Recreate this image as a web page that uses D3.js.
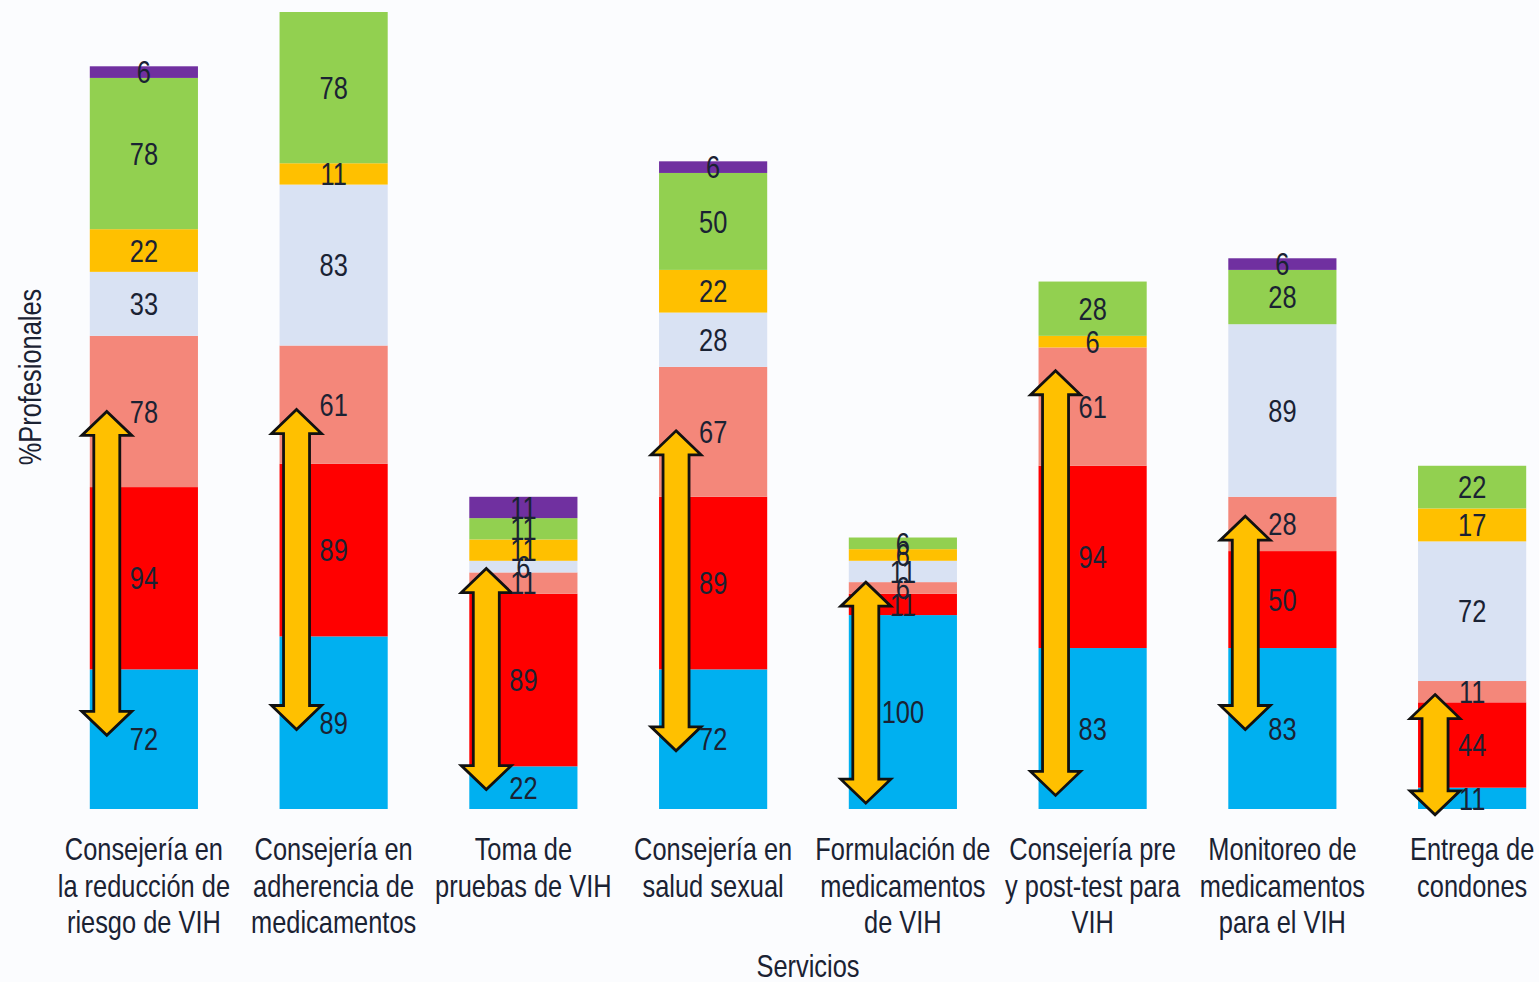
<!DOCTYPE html>
<html lang="es">
<head>
<meta charset="UTF-8">
<title>Servicios - %Profesionales</title>
<script src="https://cdn.jsdelivr.net/npm/d3@7"></script>
<style>
  body { margin: 0; background: #fbfcfe; }
  svg { display: block; }
  text { font-family: "Liberation Sans Narrow", "Liberation Sans", Arial, sans-serif; fill: #1a2233; }
</style>
</head>
<body>
<div id="chart"></div>
<script>
  // Categories (each wrapped label as lines)
  var categories = [
    ["Consejería en", "la reducción de", "riesgo de VIH"],
    ["Consejería en", "adherencia de", "medicamentos"],
    ["Toma de", "pruebas de VIH"],
    ["Consejería en", "salud sexual"],
    ["Formulación de", "medicamentos", "de VIH"],
    ["Consejería pre", "y post-test para", "VIH"],
    ["Monitoreo de", "medicamentos", "para el VIH"],
    ["Entrega de", "condones"]
  ];

  // Series values, bottom to top
  var sBlue   = [72, 89, 22, 72, 100, 83, 83, 11];
  var sRed    = [94, 89, 89, 89, 11, 94, 50, 44];
  var sSalmon = [78, 61, 11, 67, 6, 61, 28, 11];
  var sLight  = [33, 83, 6, 28, 11, 0, 89, 72];
  var sYellow = [22, 11, 11, 22, 6, 6, 0, 17];
  var sGreen  = [78, 78, 11, 50, 6, 28, 28, 22];
  var sPurple = [6, 0, 11, 6, 0, 0, 6, 0];

  // Double arrows (annotation), low and high ends in value units
  var arrowLow  = [38, 41, 10, 30, 3, 7, 41, -3];
  var arrowHigh = [205, 206, 124, 195, 117, 226, 151, 59];

  var series = [sBlue, sRed, sSalmon, sLight, sYellow, sGreen, sPurple];
  var colors = ["#00b0f0", "#ff0000", "#f4877a", "#d9e2f3", "#ffc000", "#92d050", "#7030a0"];

  var w = 1539, h = 982;
  var fs = 31, narrow = 0.82;   // narrow font imitation

  var svg = d3.select("#chart").append("svg")
    .attr("width", w)
    .attr("height", h);

  var x = d3.scaleBand()
    .domain(d3.range(categories.length))
    .range([49, 1567])
    .paddingInner(0.43)
    .paddingOuter(0.215);

  var y = d3.scaleLinear()
    .domain([0, 411])
    .range([809, 12]);

  // build table for stacking
  var table = categories.map(function(c, i) {
    var row = { i: i };
    series.forEach(function(s, k) { row["s" + k] = s[i]; });
    return row;
  });
  var keys = series.map(function(s, k) { return "s" + k; });
  var stacked = d3.stack().keys(keys)(table);

  var layers = svg.selectAll("g.layer")
    .data(stacked)
    .enter()
    .append("g")
    .attr("class", "layer")
    .attr("fill", function(d, k) { return colors[k]; });

  layers.selectAll("rect")
    .data(function(d) { return d.filter(function(p) { return p[1] > p[0]; }); })
    .enter()
    .append("rect")
    .attr("x", function(p) { return x(p.data.i); })
    .attr("width", x.bandwidth())
    .attr("y", function(p) { return y(p[1]); })
    .attr("height", function(p) { return y(p[0]) - y(p[1]); });

  // Arrows
  var arrows = svg.append("g");
  arrows.selectAll("path")
    .data(arrowLow.map(function(lo, i) { return { i: i, lo: lo, hi: arrowHigh[i] }; }))
    .enter()
    .append("path")
    .attr("d", function(d) {
      var cx = x(d.i) + 17, top = y(d.hi), bot = y(d.lo);
      var sw = 13, hw = 25, hl = 24;
      return "M" + cx + "," + top +
        "L" + (cx + hw) + "," + (top + hl) +
        "L" + (cx + sw) + "," + (top + hl) +
        "L" + (cx + sw) + "," + (bot - hl) +
        "L" + (cx + hw) + "," + (bot - hl) +
        "L" + cx + "," + bot +
        "L" + (cx - hw) + "," + (bot - hl) +
        "L" + (cx - sw) + "," + (bot - hl) +
        "L" + (cx - sw) + "," + (top + hl) +
        "L" + (cx - hw) + "," + (top + hl) + "Z";
    })
    .attr("fill", "#ffc000")
    .attr("stroke", "#111")
    .attr("stroke-width", 2.8)
    .attr("stroke-linejoin", "miter");

  // Value labels
  var labels = svg.append("g");
  stacked.forEach(function(layer) {
    labels.selectAll(null)
      .data(layer.filter(function(p) { return p[1] > p[0]; }))
      .enter()
      .append("text")
      .attr("transform", function(p) {
        return "translate(" + (x(p.data.i) + x.bandwidth() / 2) + "," + y((p[0] + p[1]) / 2) + ") scale(" + narrow + ",1)";
      })
      .attr("dy", "0.36em")
      .attr("text-anchor", "middle")
      .attr("font-size", fs + "px")
      .text(function(p) { return p[1] - p[0]; });
  });

  // Category labels
  var cat = svg.append("g");
  cat.selectAll("text")
    .data(categories)
    .enter()
    .append("text")
    .attr("text-anchor", "middle")
    .attr("font-size", fs + "px")
    .attr("transform", function(d, i) { return "translate(" + (x(i) + x.bandwidth() / 2) + ",860) scale(" + narrow + ",1)"; })
    .selectAll("tspan")
    .data(function(d) { return d; })
    .enter()
    .append("tspan")
    .attr("x", 0)
    .attr("y", function(d, j) { return j * 36.7; })
    .text(function(d) { return d; });

  // Axis titles
  svg.append("text")
    .attr("transform", "translate(808,977) scale(" + narrow + ",1)")
    .attr("text-anchor", "middle")
    .attr("font-size", fs + "px")
    .text("Servicios");

  svg.append("text")
    .attr("transform", "translate(41,377) rotate(-90) scale(" + narrow + ",1)")
    .attr("text-anchor", "middle")
    .attr("font-size", fs + "px")
    .text("%Profesionales");
</script>
</body>
</html>
